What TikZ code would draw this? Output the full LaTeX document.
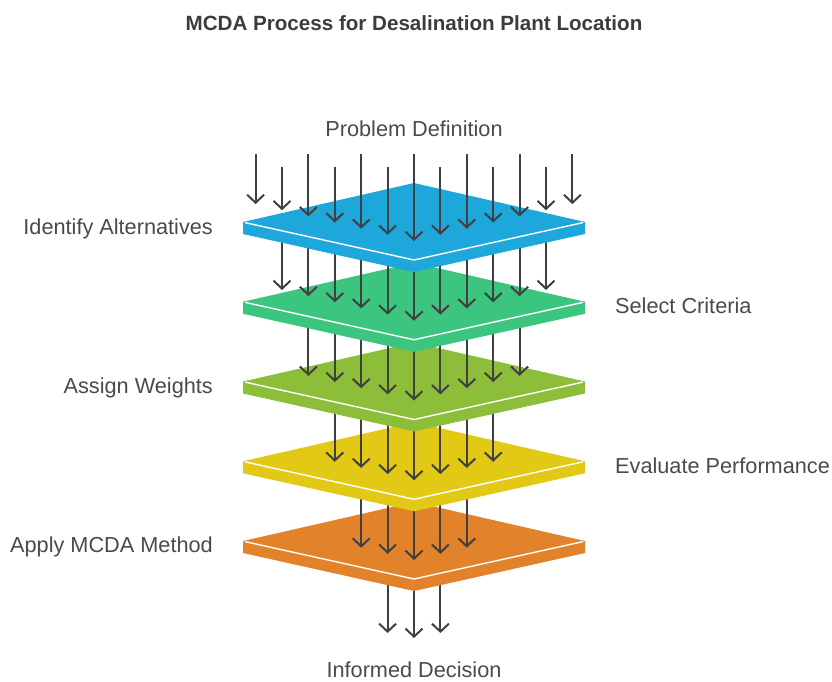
\documentclass[tikz,border=0pt]{standalone}
\usepackage{fontspec}
\setmainfont{Liberation Sans}
\usetikzlibrary{arrows.meta}
\definecolor{cblue}{HTML}{1EA7DB}
\definecolor{cgreen}{HTML}{3CC57E}
\definecolor{colive}{HTML}{8CBE3A}
\definecolor{cyellow}{HTML}{E1C916}
\definecolor{corange}{HTML}{E2832C}
\definecolor{arrowgray}{HTML}{404040}
\definecolor{labgray}{HTML}{4A4A4A}
\definecolor{titlegray}{HTML}{3C3C3C}
\newcommand\myslab[2]{%
  \fill[#2] (243,#1) -- (414,#1+38) -- (585,#1) -- (585,#1+12) -- (414,#1+50) -- (243,#1+12) -- cycle;
  \fill[#2] (243,#1) -- (414,#1-39) -- (585,#1) -- (414,#1+38) -- cycle;
  \draw[white, line width=1.4pt] (245,#1+0.6) -- (414,#1+38) -- (583,#1+0.6);
}
% #1 = start y, #2 = layer corner y, #3 = half count, #4 = name prefix
\newcommand\myarrows[4]{%
  \foreach \i in {-#3,...,#3} {
    \pgfmathsetmacro\xx{414+26.4*\i}
    \pgfmathsetmacro\tp{#2+19-0.233*abs(26.4*\i)}
    \coordinate (#4s\i) at (\xx,#1);
    \coordinate (#4t\i) at (\xx,\tp);
    \draw[arr] (#4s\i) -- (#4t\i);
  }
}
\begin{document}
\begin{tikzpicture}[x=1pt,y=-1pt,
  arr/.style={draw=arrowgray, line width=2pt, -{Straight Barb[length=8pt,width=17pt,line width=2pt]}},
  lab/.style={font=\fontsize{21.7}{24}\selectfont, text=labgray, inner sep=0pt}]
\useasboundingbox (0,0) rectangle (832,682);

% bottom arrows
\foreach \i in {-1,0,1} {
  \pgfmathsetmacro\xx{414+26.4*\i}
  \pgfmathsetmacro\tp{638-5*abs(\i)}
  \coordinate (bs\i) at (\xx,541);
  \coordinate (bt\i) at (\xx,\tp);
  \draw[arr] (bs\i) -- (bt\i);
}
\myslab{541}{corange}
\myarrows{461.25}{541}{2}{o}
\myslab{461.25}{cyellow}
\myarrows{381.5}{461.25}{3}{y}
\myslab{381.5}{colive}
\myarrows{301.75}{381.5}{4}{v}
\myslab{301.75}{cgreen}
\myarrows{222}{301.75}{5}{g}
\myslab{222}{cblue}
% top arrows
\foreach \i in {-6,...,6} {
  \pgfmathsetmacro\xx{414+26.4*\i}
  \pgfmathsetmacro\tp{222+19-0.233*abs(26.4*\i)}
  \pgfmathsetmacro\st{ifthenelse(mod(abs(\i),2)==0,154,167)}
  \coordinate (ts\i) at (\xx,\st);
  \coordinate (tt\i) at (\xx,\tp);
  \draw[arr] (ts\i) -- (tt\i);
}

\node[font=\bfseries\fontsize{20.6}{24}\selectfont, text=titlegray, inner sep=0pt, anchor=base] (title) at (414,31) {MCDA Process for Desalination Plant Location};
\node[lab, anchor=base] (pd) at (414,136) {Problem Definition};
\node[lab, anchor=base east] (l1) at (213,234) {Identify Alternatives};
\node[lab, anchor=base west] (l2) at (615,313.5) {Select Criteria};
\node[lab, anchor=base east] (l3) at (213,393) {Assign Weights};
\node[lab, anchor=base west] (l4) at (615,473) {Evaluate Performance};
\node[lab, anchor=base east] (l5) at (213,552.5) {Apply MCDA Method};
\node[lab, anchor=base] (id) at (414,677) {Informed Decision};
\end{tikzpicture}
\end{document}
